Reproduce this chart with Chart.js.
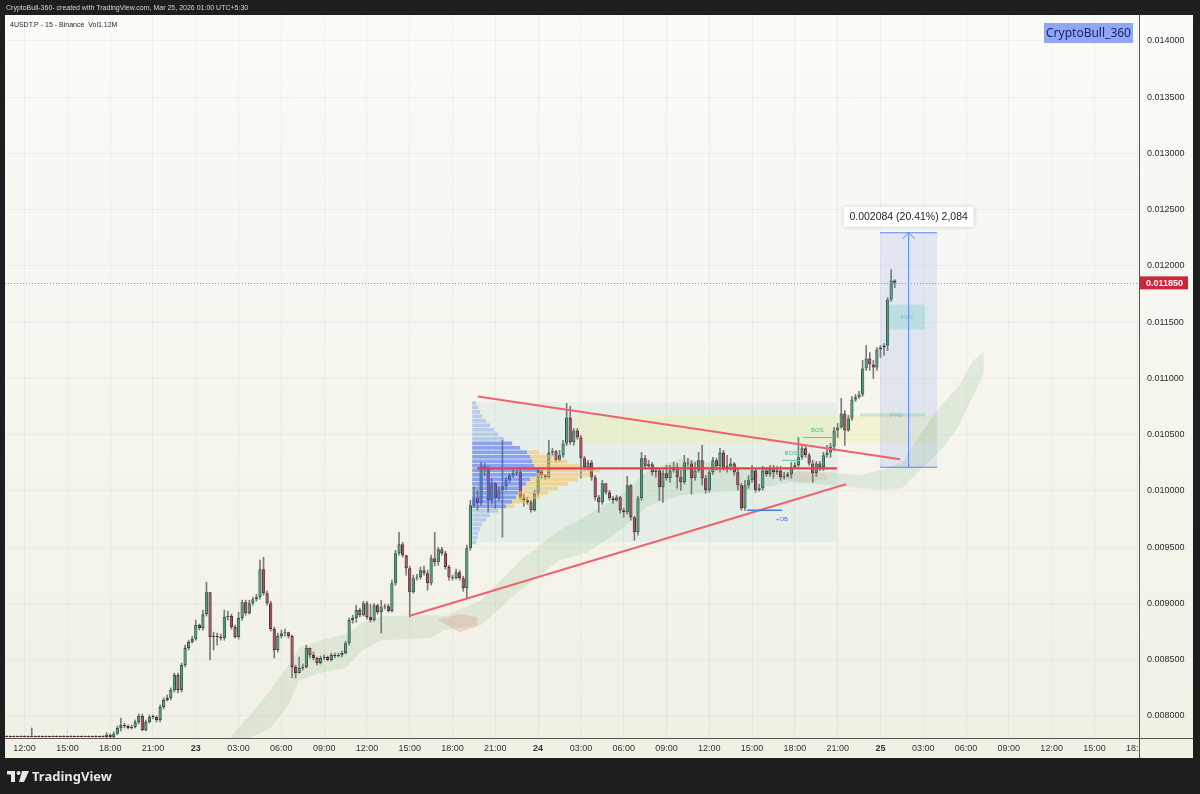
<!DOCTYPE html>
<html>
<head>
<meta charset="utf-8">
<script src="https://cdn.jsdelivr.net/npm/chart.js@4.4.1/dist/chart.umd.min.js"></script>
<style>
  html, body { margin: 0; padding: 0; background: #1e1e1e; }
  #wrap { width: 1200px; height: 794px; }
</style>
</head>
<body>
<div id="wrap"><canvas id="chart" width="1200" height="794"></canvas></div>
<script>
// 15 minute candles, first slot = 22 Mar 10:45
const startDay = 22;
const startMinutes = 10 * 60 + 45;
const slotCount = 318;

const priceTicks = [0.008, 0.0085, 0.009, 0.0095, 0.010, 0.0105, 0.011, 0.0115, 0.012, 0.0125, 0.013, 0.0135, 0.014];

// OHLC (open = previous close)
const closes = [
  0.007814, 0.007814, 0.007814, 0.007814, 0.007814, 0.007814, 0.007814, 0.007814, 0.007814, 0.007814,
  0.007814, 0.007814, 0.007814, 0.007814, 0.007814, 0.007814, 0.007814, 0.007814, 0.007814, 0.007814,
  0.007814, 0.007814, 0.007814, 0.007814, 0.007814, 0.007814, 0.007814, 0.007814,
  0.007832, 0.007814, 0.007841, 0.007893, 0.007920, 0.007911, 0.007893, 0.007902, 0.007946, 0.008000,
  0.007876, 0.007946, 0.007991, 0.007991, 0.007964, 0.008080, 0.008142, 0.008160, 0.008231, 0.008364,
  0.008231, 0.008452, 0.008604, 0.008657, 0.008683, 0.008808, 0.008781, 0.008905, 0.009100, 0.008701,
  0.008710, 0.008701, 0.008692, 0.008879, 0.008888, 0.008790, 0.008701, 0.008870, 0.009011, 0.008914,
  0.009002, 0.009038, 0.009056, 0.009305, 0.009091, 0.009002, 0.008772, 0.008586, 0.008710, 0.008736,
  0.008745, 0.008710, 0.008435, 0.008381, 0.008426, 0.008435, 0.008604, 0.008541, 0.008515, 0.008470,
  0.008515, 0.008524, 0.008497, 0.008541, 0.008533, 0.008541, 0.008559, 0.008647, 0.008852, 0.008870,
  0.008941, 0.008896, 0.009002, 0.008879, 0.008852, 0.008985, 0.008923, 0.008967, 0.008976, 0.008932,
  0.009180, 0.009447, 0.009526, 0.009429, 0.009314, 0.009100, 0.009225, 0.009234, 0.009296, 0.009269,
  0.009180, 0.009402, 0.009367, 0.009482, 0.009447, 0.009323, 0.009234, 0.009225, 0.009278, 0.009225,
  0.009136, 0.009491, 0.009873, 0.009935, 0.009890, 0.010219, 0.010201, 0.009917, 0.010068, 0.009935,
  0.010006, 0.010042, 0.010095, 0.010139, 0.010157, 0.010166, 0.009944, 0.009917, 0.009899, 0.009828,
  0.009980, 0.010183, 0.010139, 0.010121, 0.010343, 0.010352, 0.010272, 0.010317, 0.010423, 0.010654,
  0.010432, 0.010538, 0.010476, 0.010290, 0.010210, 0.010254, 0.010121, 0.009944, 0.009899, 0.010068,
  0.009988, 0.009935, 0.009917, 0.009944, 0.009828, 0.009811, 0.010051, 0.009766, 0.009633, 0.009935,
  0.010290, 0.010219, 0.010237, 0.010166, 0.010183, 0.010033, 0.010157, 0.010113, 0.010183, 0.010210,
  0.010121, 0.010077, 0.010254, 0.010245, 0.010113, 0.010183, 0.010272, 0.010113, 0.010006, 0.010166,
  0.010272, 0.010219, 0.010343, 0.010201, 0.010219, 0.010245, 0.010166, 0.010051, 0.009846, 0.010051,
  0.010095, 0.010183, 0.010006, 0.010024, 0.010183, 0.010148, 0.010192, 0.010166, 0.010183, 0.010121,
  0.010130, 0.010148, 0.010210, 0.010228, 0.010299, 0.010379, 0.010317, 0.010245, 0.010157, 0.010245,
  0.010210, 0.010317, 0.010343, 0.010396, 0.010538, 0.010565, 0.010689, 0.010538, 0.010645, 0.010814,
  0.010832, 0.010858, 0.011089, 0.011178, 0.011124, 0.011098, 0.011257, 0.011275, 0.011293, 0.011701,
  0.011870, 0.011850
];
const highs = [
  0.007814, 0.007814, 0.007814, 0.007814, 0.007814, 0.007814, 0.007814, 0.007893, 0.007814, 0.007814,
  0.007814, 0.007814, 0.007814, 0.007814, 0.007814, 0.007814, 0.007814, 0.007814, 0.007814, 0.007814,
  0.007814, 0.007814, 0.007814, 0.007814, 0.007814, 0.007814, 0.007814, 0.007814,
  0.007850, 0.007841, 0.007858, 0.007911, 0.007982, 0.007937, 0.007920, 0.007920, 0.007964, 0.008018,
  0.008018, 0.007964, 0.008009, 0.008009, 0.008000, 0.008098, 0.008160, 0.008186, 0.008249, 0.008381,
  0.008381, 0.008470, 0.008630, 0.008674, 0.008710, 0.008852, 0.008817, 0.008941, 0.009189, 0.009100,
  0.008745, 0.008736, 0.008727, 0.008941, 0.008932, 0.008905, 0.008808, 0.008923, 0.009029, 0.009029,
  0.009029, 0.009056, 0.009082, 0.009385, 0.009411, 0.009109, 0.009020, 0.008790, 0.008736, 0.008763,
  0.008772, 0.008745, 0.008719, 0.008452, 0.008524, 0.008462, 0.008630, 0.008586, 0.008568, 0.008524,
  0.008533, 0.008541, 0.008533, 0.008559, 0.008559, 0.008559, 0.008577, 0.008665, 0.008870, 0.008896,
  0.008985, 0.008958, 0.009020, 0.009020, 0.008994, 0.009002, 0.008994, 0.009029, 0.008994, 0.008994,
  0.009207, 0.009473, 0.009633, 0.009544, 0.009429, 0.009332, 0.009251, 0.009260, 0.009323, 0.009332,
  0.009296, 0.009429, 0.009633, 0.009500, 0.009500, 0.009464, 0.009340, 0.009251, 0.009305, 0.009296,
  0.009242, 0.009518, 0.009917, 0.010033, 0.010006, 0.010254, 0.010245, 0.010219, 0.010113, 0.010077,
  0.010042, 0.010450, 0.010121, 0.010157, 0.010183, 0.010183, 0.010201, 0.009971, 0.009944, 0.009917,
  0.010006, 0.010201, 0.010201, 0.010148, 0.010450, 0.010379, 0.010361, 0.010361, 0.010450, 0.010778,
  0.010752, 0.010556, 0.010556, 0.010494, 0.010308, 0.010272, 0.010272, 0.010139, 0.009962, 0.010095,
  0.010060, 0.010006, 0.009953, 0.009962, 0.009953, 0.009846, 0.010130, 0.010060, 0.009775, 0.009953,
  0.010343, 0.010317, 0.010272, 0.010254, 0.010210, 0.010201, 0.010183, 0.010228, 0.010228, 0.010254,
  0.010245, 0.010183, 0.010317, 0.010290, 0.010272, 0.010254, 0.010343, 0.010405, 0.010139, 0.010183,
  0.010299, 0.010290, 0.010379, 0.010361, 0.010317, 0.010290, 0.010254, 0.010201, 0.010068, 0.010095,
  0.010139, 0.010228, 0.010201, 0.010060, 0.010219, 0.010210, 0.010228, 0.010228, 0.010219, 0.010219,
  0.010166, 0.010166, 0.010254, 0.010254, 0.010476, 0.010405, 0.010396, 0.010334, 0.010272, 0.010263,
  0.010263, 0.010343, 0.010405, 0.010423, 0.010565, 0.010600, 0.010823, 0.010716, 0.010672, 0.010841,
  0.010858, 0.010885, 0.011160, 0.011293, 0.011231, 0.011160, 0.011275, 0.011293, 0.011311, 0.011719,
  0.011967, 0.011879
];
const lows = [
  0.007814, 0.007814, 0.007814, 0.007814, 0.007814, 0.007814, 0.007814, 0.007814, 0.007814, 0.007814,
  0.007814, 0.007814, 0.007814, 0.007814, 0.007814, 0.007814, 0.007814, 0.007814, 0.007814, 0.007814,
  0.007814, 0.007814, 0.007814, 0.007814, 0.007814, 0.007814, 0.007814, 0.007814,
  0.007805, 0.007796, 0.007805, 0.007832, 0.007867, 0.007893, 0.007884, 0.007884, 0.007893, 0.007929,
  0.007867, 0.007867, 0.007937, 0.007973, 0.007946, 0.007946, 0.008062, 0.008133, 0.008142, 0.008213,
  0.008204, 0.008213, 0.008435, 0.008586, 0.008647, 0.008674, 0.008763, 0.008763, 0.008888, 0.008497,
  0.008586, 0.008630, 0.008674, 0.008674, 0.008852, 0.008772, 0.008692, 0.008683, 0.008852, 0.008896,
  0.008905, 0.008985, 0.009020, 0.009038, 0.009073, 0.008985, 0.008754, 0.008515, 0.008568, 0.008692,
  0.008710, 0.008692, 0.008337, 0.008337, 0.008381, 0.008408, 0.008426, 0.008515, 0.008497, 0.008452,
  0.008462, 0.008497, 0.008488, 0.008488, 0.008515, 0.008524, 0.008524, 0.008550, 0.008630, 0.008825,
  0.008834, 0.008879, 0.008888, 0.008861, 0.008834, 0.008843, 0.008905, 0.008736, 0.008950, 0.008923,
  0.008923, 0.009162, 0.009429, 0.009411, 0.009251, 0.008879, 0.009091, 0.009207, 0.009216, 0.009251,
  0.009118, 0.009162, 0.009332, 0.009340, 0.009429, 0.009305, 0.009207, 0.009207, 0.009216, 0.009207,
  0.009109, 0.009047, 0.009473, 0.009855, 0.009828, 0.009873, 0.010139, 0.009811, 0.009882, 0.009846,
  0.009917, 0.009589, 0.010006, 0.010077, 0.010121, 0.010139, 0.009926, 0.009864, 0.009882, 0.009811,
  0.009820, 0.009962, 0.010113, 0.010104, 0.010113, 0.010317, 0.010254, 0.010263, 0.010299, 0.010405,
  0.010414, 0.010405, 0.010459, 0.010113, 0.010183, 0.010183, 0.010095, 0.009917, 0.009811, 0.009882,
  0.009971, 0.009917, 0.009890, 0.009908, 0.009802, 0.009766, 0.009793, 0.009740, 0.009562, 0.009606,
  0.009917, 0.010201, 0.010210, 0.010139, 0.010121, 0.009917, 0.009899, 0.010095, 0.010077, 0.010166,
  0.010024, 0.010006, 0.010060, 0.010219, 0.009971, 0.010095, 0.010166, 0.010051, 0.009980, 0.009988,
  0.010148, 0.010183, 0.010166, 0.010183, 0.010166, 0.010183, 0.010139, 0.010006, 0.009828, 0.009828,
  0.010024, 0.010077, 0.009988, 0.009997, 0.010006, 0.010130, 0.010130, 0.010113, 0.010148, 0.010095,
  0.010104, 0.010121, 0.010113, 0.010201, 0.010210, 0.010281, 0.010299, 0.010228, 0.010077, 0.010130,
  0.010183, 0.010183, 0.010299, 0.010299, 0.010361, 0.010476, 0.010558, 0.010405, 0.010530, 0.010627,
  0.010796, 0.010823, 0.010841, 0.011071, 0.011071, 0.011000, 0.011071, 0.011186, 0.011204, 0.011248,
  0.011684, 0.011808
];

// cloud band (slot index -> top / bottom price)
const cloudSlots  = [63, 68, 74, 79, 82, 88, 95, 100, 105, 119, 123, 133, 144, 155, 163, 172, 180, 189, 197, 208, 220, 231, 239, 245, 251, 256, 262, 267, 271, 274];
const cloudTop    = [0.007823, 0.008000, 0.008231, 0.008452, 0.008604, 0.008674, 0.008727, 0.008834, 0.008888, 0.008896, 0.008888, 0.009029, 0.009385, 0.009651, 0.009784, 0.009962, 0.010183, 0.010290, 0.010254, 0.010201, 0.010183, 0.010166, 0.010139, 0.010183, 0.010254, 0.010494, 0.010760, 0.010938, 0.011160, 0.011231];
const cloudBottom = [0.007805, 0.007805, 0.007893, 0.008098, 0.008319, 0.008381, 0.008426, 0.008586, 0.008674, 0.008692, 0.008763, 0.008808, 0.009118, 0.009385, 0.009456, 0.009651, 0.009873, 0.009962, 0.009988, 0.010006, 0.010077, 0.010051, 0.010024, 0.010006, 0.010024, 0.010183, 0.010361, 0.010583, 0.010849, 0.011053];
const redCloudSlotsA = [121, 127, 132];
const redCloudTopA   = [0.008860, 0.008905, 0.008880];
const redCloudBotA   = [0.008850, 0.008745, 0.008800];
const redCloudSlotsB = [213, 222, 230];
const redCloudTopB   = [0.010150, 0.010166, 0.010150];
const redCloudBotB   = [0.010140, 0.010077, 0.010100];

// session volume profile, rows from the top price downwards
const profileTop = 0.0108;
const profileStep = 0.00004;
const profileVolume = [4, 6, 8, 10, 14, 18, 22, 26, 32, 40, 48, 55, 58, 60, 62, 68, 64, 58, 54, 50, 46, 44, 40, 34, 26, 18, 14, 10, 8, 6, 5, 4];
const profileValueArea = [0, 0, 0, 0, 0, 0, 0, 0, 0, 0, 0, 12, 25, 35, 45, 60, 55, 48, 42, 36, 30, 24, 15, 8, 0, 0, 0, 0, 0, 0, 0, 0];

const lastPrice = 0.011850;

// ---- build
const times = [];
for (let k = 0; k < slotCount; k++) {
  const t = startMinutes + 15 * k;
  times.push({ day: startDay + Math.floor(t / 1440), hh: Math.floor((t % 1440) / 60), mm: t % 60 });
}
const pad = n => String(n).padStart(2, '0');
const labels = times.map(t => t.day + ' ' + pad(t.hh) + ':' + pad(t.mm));
function tickText(k) {
  const t = times[k];
  if (!t || t.mm !== 0 || t.hh % 3 !== 0) return '';
  return t.hh === 0 ? String(t.day) : pad(t.hh) + ':00';
}

const bodies = [], wicks = [], bodyFill = [], bodyLine = [];
for (let k = 0; k < closes.length; k++) {
  const o = k === 0 ? closes[0] : closes[k - 1];
  const c = closes[k];
  bodies.push([o, c]);
  wicks.push([Math.min(lows[k], o, c), Math.max(highs[k], o, c)]);
  const up = c > o;
  bodyFill.push(up ? '#4f9e80' : '#a9505b');
  bodyLine.push(up ? '#2a5646' : '#57262d');
}

function sparse(slots, vals) {
  const a = new Array(slotCount).fill(null);
  slots.forEach((k, i) => { a[k] = vals[i]; });
  return a;
}
function band(top, bottom, color) {
  return [
    { type: 'line', data: top, fill: '+1', backgroundColor: color, borderColor: 'transparent', borderWidth: 0, pointRadius: 0, spanGaps: true, order: 10 },
    { type: 'line', data: bottom, fill: false, borderColor: 'transparent', borderWidth: 0, pointRadius: 0, spanGaps: true, order: 10 }
  ];
}

const FONT = '"Liberation Sans", Arial, sans-serif';

const overlay = {
  id: 'overlay',
  beforeDraw(chart) {
    const c = chart.ctx;
    c.save();
    c.fillStyle = '#1e1e1e';
    c.fillRect(0, 0, 1200, 794);
    const g = c.createLinearGradient(0, 15, 0, 758);
    g.addColorStop(0, '#fbfbf8');
    g.addColorStop(1, '#f1f0e5');
    c.fillStyle = g;
    c.fillRect(5, 15, 1188, 743);
    c.restore();
  },
  beforeDatasetsDraw(chart) {
    const c = chart.ctx, X = v => chart.scales.x.getPixelForValue(v), Y = v => chart.scales.y.getPixelForValue(v);
    const box = (k0, k1, p0, p1, fill) => { c.fillStyle = fill; c.fillRect(X(k0), Y(p1), X(k1) - X(k0), Y(p0) - Y(p1)); };
    c.save();
    // range box and supply zone
    box(130.5, 232.8, 0.009544, 0.010787, 'rgba(150,210,205,0.16)');
    box(158.8, 260.3, 0.010423, 0.010672, 'rgba(238,238,150,0.30)');
    // measure box
    box(244.9, 260.9, 0.010211, 0.012295, 'rgba(120,150,240,0.17)');
    // fair value gaps
    box(247.4, 257.5, 0.011435, 0.011657, 'rgba(90,205,195,0.28)');
    box(239.3, 257.5, 0.010663, 0.010689, 'rgba(110,210,140,0.35)');
    c.restore();
  },
  afterDatasetsDraw(chart) {
    const c = chart.ctx, X = v => chart.scales.x.getPixelForValue(v), Y = v => chart.scales.y.getPixelForValue(v);
    c.save();
    // volume profile
    const x0 = X(130.5);
    profileVolume.forEach((v, i) => {
      const yTop = Y(profileTop - i * profileStep), yBot = Y(profileTop - (i + 1) * profileStep);
      const h = yBot - yTop - 0.8;
      c.fillStyle = (i >= 9 && i <= 23) ? 'rgba(65,100,238,0.55)' : 'rgba(100,140,240,0.34)';
      c.fillRect(x0, yTop, v * 1.0, h);
      if (profileValueArea[i]) {
        c.fillStyle = 'rgba(248,188,85,0.52)';
        c.fillRect(x0 + v * 1.0, yTop, profileValueArea[i] * 1.0, h);
      }
    });
    const seg = (k0, p0, k1, p1, color, w) => {
      c.strokeStyle = color; c.lineWidth = w;
      c.beginPath(); c.moveTo(X(k0), Y(p0)); c.lineTo(X(k1), Y(p1)); c.stroke();
    };
    // triangle
    seg(132.1, 0.010840, 250.5, 0.010281, '#f0626f', 2);
    seg(112.8, 0.008888, 235.3, 0.010060, '#f0626f', 2);
    seg(131.9, 0.010201, 232.8, 0.010201, '#e6404f', 2.2);
    // structure marks
    seg(223.3, 0.010476, 231.4, 0.010476, '#4fd08a', 1);
    seg(217.4, 0.010272, 222.4, 0.010272, '#4fd08a', 1);
    seg(207.6, 0.009828, 217.4, 0.009828, '#3f7de8', 1.5);
    c.font = '6px ' + FONT;
    c.textAlign = 'center'; c.textBaseline = 'middle';
    c.fillStyle = '#3fc07a';
    c.fillText('BOS', X(227.3), Y(0.010540));
    c.fillText('BOS', X(219.9), Y(0.010334));
    c.fillStyle = '#3f7de8';
    c.fillText('+OB', X(217.4), Y(0.009748));
    c.fillStyle = 'rgba(60,170,160,0.6)';
    c.fillText('FVG', X(252.4), Y(0.011546));
    c.fillText('FVG', X(249.5), Y(0.010676));
    // measure lines and arrow
    c.strokeStyle = '#5b84f0'; c.lineWidth = 1;
    const l = X(244.9), r = X(260.9), ax = X(252.9), yt = Y(0.012295), yb = Y(0.010211);
    c.beginPath();
    c.moveTo(l, yt); c.lineTo(r, yt);
    c.moveTo(l, yb); c.lineTo(r, yb);
    c.moveTo(ax, yb); c.lineTo(ax, yt);
    c.moveTo(ax - 6, yt + 6); c.lineTo(ax, yt); c.lineTo(ax + 6, yt + 6);
    c.stroke();
    // last price dotted line
    c.strokeStyle = '#e8707c'; c.lineWidth = 1; c.setLineDash([1, 2]);
    const yp = Math.round(Y(lastPrice)) + 0.5;
    c.beginPath(); c.moveTo(chart.chartArea.left, yp); c.lineTo(chart.chartArea.right, yp); c.stroke();
    c.setLineDash([]);
    // measure label
    c.shadowColor = 'rgba(0,0,0,0.18)'; c.shadowBlur = 4;
    c.fillStyle = '#ffffff';
    c.fillRect(ax - 65, yt - 26, 130, 20);
    c.shadowBlur = 0;
    c.fillStyle = '#1f1f1f';
    c.font = '10.5px ' + FONT;
    c.fillText('0.002084 (20.41%) 2,084', ax, yt - 16);
    c.restore();
  },
  afterDraw(chart) {
    const c = chart.ctx, Y = v => chart.scales.y.getPixelForValue(v);
    c.save();
    // clip the last time label at the price scale
    c.fillStyle = '#f1f0e5';
    c.fillRect(1140, 739, 53, 19);
    c.strokeStyle = '#555'; c.lineWidth = 1;
    c.beginPath();
    c.moveTo(1139.5, 15); c.lineTo(1139.5, 758);
    c.moveTo(5, 738.5); c.lineTo(1193, 738.5);
    c.stroke();
    // last price tag
    const yp = Y(lastPrice);
    c.fillStyle = '#c9273a';
    c.fillRect(1140, yp - 6.5, 48, 13);
    c.fillStyle = '#ffffff';
    c.font = 'bold 9px ' + FONT;
    c.textAlign = 'left'; c.textBaseline = 'middle';
    c.fillText('0.011850', 1146, yp + 0.5);
    // watermark
    c.fillStyle = '#8fa6f6';
    c.fillRect(1044, 23, 89, 20);
    c.fillStyle = '#1b2566';
    c.font = '12px "Noto Sans", ' + FONT;
    c.textAlign = 'center';
    c.fillText('CryptoBull_360', 1088.5, 33.5);
    // symbol line
    c.textAlign = 'left';
    c.fillStyle = '#2a2a2a';
    c.font = '7px ' + FONT;
    c.fillText('4USDT.P - 15 - Binance  Vol1.12M', 10, 25);
    // top caption
    c.fillStyle = '#d6d6d6';
    c.fillText('CryptoBull-360- created with TradingView.com, Mar 25, 2026 01:00 UTC+5:30', 6, 8);
    // footer logo
    c.fillStyle = '#e6e6e6';
    c.fillRect(7, 771, 8, 3.5);
    c.fillRect(11, 771, 4, 11);
    c.beginPath(); c.arc(18.5, 773, 2, 0, Math.PI * 2); c.fill();
    c.beginPath(); c.moveTo(22, 771); c.lineTo(29, 771); c.lineTo(24, 782); c.lineTo(19, 782); c.closePath(); c.fill();
    c.font = 'bold 13px "Noto Sans", ' + FONT;
    c.fillText('TradingView', 32, 777);
    c.restore();
  }
};

const datasets = [
  ...band(sparse(cloudSlots, cloudTop), sparse(cloudSlots, cloudBottom), 'rgba(110,175,110,0.16)'),
  ...band(sparse(redCloudSlotsA, redCloudTopA), sparse(redCloudSlotsA, redCloudBotA), 'rgba(235,120,120,0.25)'),
  ...band(sparse(redCloudSlotsB, redCloudTopB), sparse(redCloudSlotsB, redCloudBotB), 'rgba(235,130,130,0.16)'),
  {
    label: 'wick', data: wicks, backgroundColor: '#7b7b7b', barThickness: 1,
    minBarLength: 1, grouped: false, order: 2
  },
  {
    label: 'body', data: bodies, backgroundColor: bodyFill, borderColor: bodyLine, borderWidth: 1,
    borderSkipped: false, barPercentage: 0.92, categoryPercentage: 1, minBarLength: 1, grouped: false, order: 1
  }
];

new Chart(document.getElementById('chart').getContext('2d'), {
  type: 'bar',
  data: { labels: labels, datasets: datasets },
  options: {
    responsive: false,
    animation: false,
    layout: { padding: { left: 5, top: 15, right: 7, bottom: 36 } },
    plugins: { legend: { display: false }, tooltip: { enabled: false } },
    scales: {
      x: {
        grid: {
          offset: false, drawTicks: false,
          color: ctx => tickText(ctx.index) ? 'rgba(0,0,0,0.035)' : 'transparent'
        },
        border: { color: '#555' },
        ticks: {
          autoSkip: false, maxRotation: 0, minRotation: 0, padding: 5, color: '#333',
          callback: (v, i) => tickText(i),
          font: ctx => ({ family: FONT, size: 9, weight: (times[ctx.index] && times[ctx.index].hh === 0 && times[ctx.index].mm === 0) ? 'bold' : 'normal' })
        },
        afterFit: s => { s.height = 20; }
      },
      y: {
        position: 'right',
        min: 0.007804, max: 0.014231,
        afterBuildTicks: s => { s.ticks = priceTicks.map(v => ({ value: v })); },
        grid: { color: 'rgba(0,0,0,0.035)', drawTicks: false },
        border: { color: '#555' },
        ticks: { padding: 8, color: '#2a2a2a', font: { family: FONT, size: 9 }, callback: v => v.toFixed(6) },
        afterFit: s => { s.width = 54; }
      }
    }
  },
  plugins: [overlay]
});
</script>
</body>
</html>
